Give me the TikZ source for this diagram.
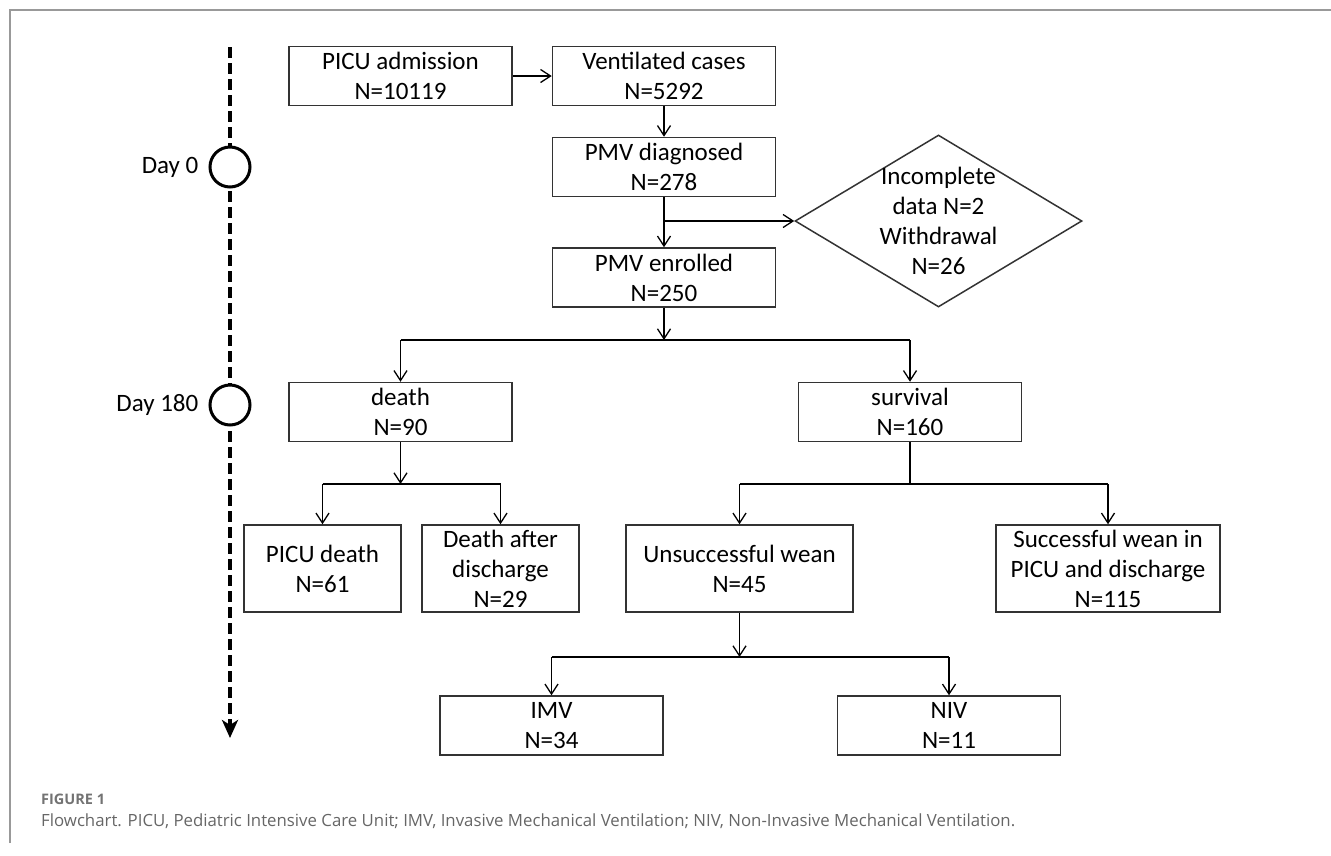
\documentclass[tikz,border=0pt]{standalone}
\usepackage{fontspec}
\setmainfont{Carlito}
\newfontfamily\capfont{Open Sans}
\usetikzlibrary{arrows.meta,shapes.geometric,positioning}

\begin{document}
\begin{tikzpicture}[x=1pt, y=-1pt,
  every node/.style={font=\fontsize{25}{30}\selectfont},
  box/.style={draw=black!80, line width=1.5pt, minimum width=223pt,
    minimum height=59pt, align=center, inner sep=0pt},
  arr/.style={-{Straight Barb[length=10pt,width=13pt]}, line width=1.3pt},
  link/.style={line width=1.3pt},
  daymark/.style={circle, draw, line width=3pt, fill=white,
    minimum size=40pt, inner sep=0pt}]

  \useasboundingbox (0,0) rectangle (1331,855);
  \draw[black!40, line width=1.5pt] (10,843) -- (10,10) -- (1331,10);

  % time line
  \coordinate (tstart) at (230,47);
  \coordinate (tend) at (230,738);
  \draw[line width=3.5pt, dash pattern=on 11pt off 5pt,
    -{Stealth[length=18pt,width=16pt,inset=5pt]}] (tstart) -- (tend);
  \node[daymark] (d0) at (230,167) {};
  \node[daymark] (d180) at (230,405) {};
  \node[left=10pt of d0, inner sep=0pt] (d0lbl) {Day 0};
  \node[left=10pt of d180, inner sep=0pt] (d180lbl) {Day 180};

  % boxes
  \node[box] (adm) at (400.5,76) {PICU admission\\N=10119};
  \node[box] (vent) at (664,76) {Ventilated cases\\N=5292};
  \node[box] (diag) at (664,167) {PMV diagnosed\\N=278};
  \node[box] (enrol) at (664,277.5) {PMV enrolled\\N=250};
  \node[diamond, draw=black!80, line width=1.5pt, minimum width=287pt,
    minimum height=172pt, inner sep=0pt] (excl) at (938.5,221) {};
  \node[align=center, inner sep=0pt] (excltxt) at (excl.center)
    {Incomplete\\data N=2\\Withdrawal\\N=26};

  \node[box] (death) at (400.5,412) {death\\N=90};
  \node[box] (surv) at (910,412) {survival\\N=160};
  \node[box, minimum width=157pt, minimum height=87pt] (pdeath) at (322.5,568.5)
    {PICU death\\N=61};
  \node[box, minimum width=157pt, minimum height=87pt] (ddis) at (500.5,568.5)
    {Death after\\discharge\\N=29};
  \node[box, minimum width=227pt, minimum height=87pt] (unsucc) at (739.5,568.5)
    {Unsuccessful wean\\N=45};
  \node[box, minimum width=224pt, minimum height=87pt] (succ) at (1108,568.5)
    {Successful wean in\\PICU and discharge\\N=115};
  \node[box] (imv) at (551.5,725.5) {IMV\\N=34};
  \node[box] (niv) at (949,725.5) {NIV\\N=11};

  % connectors
  \draw[arr] (adm) -- (vent);
  \draw[arr] (vent) -- (diag);
  \draw[arr] (diag) -- (enrol);
  \coordinate (xsplit) at (664,221);
  \draw[arr] (xsplit) -- (excl.west);

  \coordinate (split1) at (664,340);
  \draw[arr] (enrol) -- (split1);
  \draw[link] (split1 -| death) -- (split1 -| surv);
  \draw[arr] (split1 -| death) -- (death);
  \draw[arr] (split1 -| surv) -- (surv);

  \coordinate (split2) at (400.5,484);
  \draw[arr] (death) -- (split2);
  \draw[link] (split2 -| pdeath) -- (split2 -| ddis);
  \draw[arr] (split2 -| pdeath) -- (pdeath);
  \draw[arr] (split2 -| ddis) -- (ddis);

  \coordinate (split3) at (910,484);
  \draw[link] (surv) -- (split3);
  \draw[link] (split3 -| unsucc) -- (split3 -| succ);
  \draw[arr] (split3 -| unsucc) -- (unsucc);
  \draw[arr] (split3 -| succ) -- (succ);

  \coordinate (split4) at (739.5,657);
  \draw[arr] (unsucc) -- (split4);
  \draw[link] (split4 -| imv) -- (split4 -| niv);
  \draw[arr] (split4 -| imv) -- (imv);
  \draw[arr] (split4 -| niv) -- (niv);

  % caption
  \node[anchor=west, inner sep=0pt, text=black!55,
    font=\capfont\bfseries\fontsize{14.5}{16}\selectfont] (figno) at (41,799) {FIGURE 1};
  \node[anchor=west, inner sep=0pt, text=black!60,
    font=\capfont\fontsize{16.8}{19}\selectfont] (caption) at (41,821)
    {Flowchart. PICU, Pediatric Intensive Care Unit; IMV, Invasive Mechanical Ventilation; NIV, Non-Invasive Mechanical Ventilation.};
\end{tikzpicture}
\end{document}
